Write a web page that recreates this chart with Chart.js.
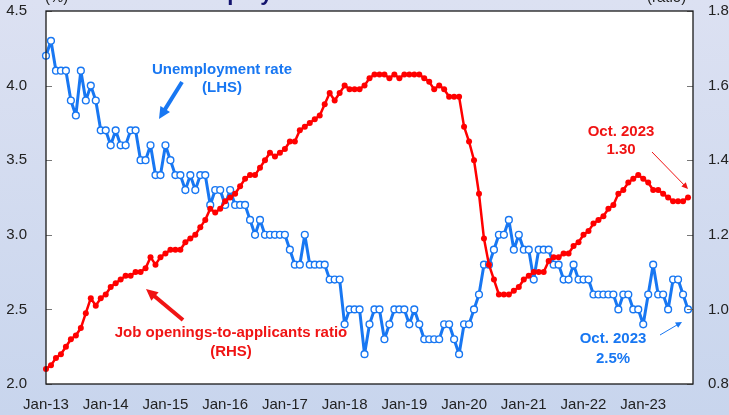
<!DOCTYPE html>
<html>
<head>
<meta charset="utf-8">
<script src="https://cdn.jsdelivr.net/npm/chart.js@4.4.0/dist/chart.umd.min.js"></script>
<style>
    html, body { margin: 0; padding: 0; }
    body {
        width: 729px;
        height: 415px;
        overflow: hidden;
        background: linear-gradient(180deg, #dce1f2 0%, #c8d5ed 100%);
    }
    canvas { display: block; }
</style>
</head>
<body>
<canvas id="chart" width="729" height="415"></canvas>
<script>
// === Data ===
const years = ['13', '14', '15', '16', '17', '18', '19', '20', '21', '22', '23'];
const months = ['Jan', 'Feb', 'Mar', 'Apr', 'May', 'Jun', 'Jul', 'Aug', 'Sep', 'Oct', 'Nov', 'Dec'];

// Unemployment rate, % (LHS), Jan-13 .. Oct-23
const unemploymentRate = [
    4.2, 4.3, 4.1, 4.1, 4.1, 3.9, 3.8, 4.1, 3.9, 4.0, 3.9, 3.7, // 2013
    3.7, 3.6, 3.7, 3.6, 3.6, 3.7, 3.7, 3.5, 3.5, 3.6, 3.4, 3.4, // 2014
    3.6, 3.5, 3.4, 3.4, 3.3, 3.4, 3.3, 3.4, 3.4, 3.2, 3.3, 3.3, // 2015
    3.2, 3.3, 3.2, 3.2, 3.2, 3.1, 3.0, 3.1, 3.0, 3.0, 3.0, 3.0, // 2016
    3.0, 2.9, 2.8, 2.8, 3.0, 2.8, 2.8, 2.8, 2.8, 2.7, 2.7, 2.7, // 2017
    2.4, 2.5, 2.5, 2.5, 2.2, 2.4, 2.5, 2.5, 2.3, 2.4, 2.5, 2.5, // 2018
    2.5, 2.4, 2.5, 2.4, 2.3, 2.3, 2.3, 2.3, 2.4, 2.4, 2.3, 2.2, // 2019
    2.4, 2.4, 2.5, 2.6, 2.8, 2.8, 2.9, 3.0, 3.0, 3.1, 2.9, 3.0, // 2020
    2.9, 2.9, 2.7, 2.9, 2.9, 2.9, 2.8, 2.8, 2.7, 2.7, 2.8, 2.7, // 2021
    2.7, 2.7, 2.6, 2.6, 2.6, 2.6, 2.6, 2.5, 2.6, 2.6, 2.5, 2.5, // 2022
    2.4, 2.6, 2.8, 2.6, 2.6, 2.5, 2.7, 2.7, 2.6, 2.5            // 2023
];

// Job openings-to-applicants ratio (RHS)
const jobRatio = [
    0.84, 0.85, 0.87, 0.88, 0.90, 0.92, 0.93, 0.95, 0.99, 1.03, 1.01, 1.03, // 2013
    1.04, 1.06, 1.07, 1.08, 1.09, 1.09, 1.10, 1.10, 1.11, 1.14, 1.12, 1.14, // 2014
    1.15, 1.16, 1.16, 1.16, 1.18, 1.19, 1.20, 1.22, 1.24, 1.27, 1.26, 1.27, // 2015
    1.29, 1.30, 1.31, 1.33, 1.35, 1.36, 1.36, 1.38, 1.40, 1.42, 1.41, 1.42, // 2016
    1.43, 1.45, 1.45, 1.48, 1.49, 1.50, 1.51, 1.52, 1.55, 1.58, 1.56, 1.58, // 2017
    1.60, 1.59, 1.59, 1.59, 1.60, 1.62, 1.63, 1.63, 1.63, 1.62, 1.63, 1.62, // 2018
    1.63, 1.63, 1.63, 1.63, 1.62, 1.61, 1.59, 1.60, 1.59, 1.57, 1.57, 1.57, // 2019
    1.49, 1.45, 1.40, 1.31, 1.19, 1.12, 1.08, 1.04, 1.04, 1.04, 1.05, 1.06, // 2020
    1.08, 1.09, 1.10, 1.10, 1.10, 1.13, 1.14, 1.14, 1.15, 1.15, 1.17, 1.18, // 2021
    1.20, 1.21, 1.23, 1.24, 1.25, 1.27, 1.28, 1.31, 1.32, 1.34, 1.35, 1.36, // 2022
    1.35, 1.34, 1.32, 1.32, 1.31, 1.30, 1.29, 1.29, 1.29, 1.30              // 2023
];

const leftTicks = [2.0, 2.5, 3.0, 3.5, 4.0, 4.5];
const rightTicks = [0.8, 1.0, 1.2, 1.4, 1.6, 1.8];

// Month labels Jan-13 .. Nov-23 (the last one only pads the axis end)
const monthLabels = [];
years.forEach(y => months.forEach(m => monthLabels.push(m + '-' + y)));
monthLabels.length = unemploymentRate.length + 1;

const BLUE = '#1877f2';
const RED = '#ff0000';
const FONT = '"Liberation Sans", Arial, sans-serif';

// === Helpers ===
function drawArrow(ctx, x1, y1, x2, y2, color, width, head) {
    const ang = Math.atan2(y2 - y1, x2 - x1);
    ctx.save();
    ctx.strokeStyle = color;
    ctx.fillStyle = color;
    ctx.lineWidth = width;
    ctx.beginPath();
    ctx.moveTo(x1, y1);
    ctx.lineTo(x2 - Math.cos(ang) * head * 0.8, y2 - Math.sin(ang) * head * 0.8);
    ctx.stroke();
    ctx.beginPath();
    ctx.moveTo(x2, y2);
    ctx.lineTo(x2 - head * Math.cos(ang - 0.45), y2 - head * Math.sin(ang - 0.45));
    ctx.lineTo(x2 - head * Math.cos(ang + 0.45), y2 - head * Math.sin(ang + 0.45));
    ctx.closePath();
    ctx.fill();
    ctx.restore();
}

function drawText(ctx, lines, x, y, color, size, gap) {
    ctx.save();
    ctx.fillStyle = color;
    ctx.font = 'bold ' + size + 'px ' + FONT;
    ctx.textAlign = 'center';
    ctx.textBaseline = 'middle';
    lines.forEach((t, i) => ctx.fillText(t, x, y + i * gap));
    ctx.restore();
}

// no automatic label padding, the plot box is fixed by hand
function noPadding(scale) {
    scale.paddingTop = 0;
    scale.paddingBottom = 0;
    scale.paddingLeft = 0;
    scale.paddingRight = 0;
}

// === Plot frame, inner ticks and notes ===
const notesPlugin = {
    id: 'notes',
    beforeDraw(chart) {
        const { ctx, chartArea: a } = chart;
        ctx.save();
        ctx.fillStyle = '#ffffff';
        ctx.fillRect(a.left, a.top, a.right - a.left, a.bottom - a.top);
        ctx.restore();
    },
    afterDraw(chart) {
        const { ctx, chartArea: a, scales } = chart;
        ctx.save();

        // inner tick marks
        ctx.strokeStyle = '#777';
        ctx.lineWidth = 1;
        leftTicks.forEach(v => {
            const y = Math.round(scales.y.getPixelForValue(v)) + 0.5;
            ctx.beginPath(); ctx.moveTo(a.left, y); ctx.lineTo(a.left + 6, y); ctx.stroke();
        });
        rightTicks.forEach(v => {
            const y = Math.round(scales.y1.getPixelForValue(v)) + 0.5;
            ctx.beginPath(); ctx.moveTo(a.right - 6, y); ctx.lineTo(a.right, y); ctx.stroke();
        });

        // frame
        ctx.strokeStyle = '#1a1a1a';
        ctx.lineWidth = 1.3;
        ctx.strokeRect(a.left, a.top, a.right - a.left, a.bottom - a.top);

        // cut-off title and units at the top
        ctx.fillStyle = '#14146e';
        ctx.font = 'bold 22px ' + FONT;
        ctx.textAlign = 'left';
        ctx.textBaseline = 'alphabetic';
        ctx.fillText('Employment Conditions', 193, 0);
        ctx.fillStyle = '#222';
        ctx.font = '15px ' + FONT;
        ctx.fillText('(%)', 45, 2);
        ctx.fillText('(ratio)', 647, 2);
        ctx.restore();

        // series notes
        drawText(ctx, ['Unemployment rate', '(LHS)'], 222, 70, BLUE, 15, 18);
        drawArrow(ctx, 182, 82, 159, 119, BLUE, 4, 13);

        drawText(ctx, ['Job openings-to-applicants ratio', '(RHS)'], 231, 333, '#f01414', 15, 19);
        drawArrow(ctx, 183, 320, 146, 289, '#f01414', 4, 13);

        drawText(ctx, ['Oct. 2023', '1.30'], 621, 132, '#f01414', 15, 18);
        drawArrow(ctx, 652, 152, 688, 189, '#f01414', 1, 7);

        drawText(ctx, ['Oct. 2023', '2.5%'], 613, 339, BLUE, 15, 20);
        drawArrow(ctx, 660, 335, 682, 322, BLUE, 1, 7);
    }
};

// === Chart ===
document.addEventListener('DOMContentLoaded', () => {
    const ctx = document.getElementById('chart').getContext('2d');
    new Chart(ctx, {
        type: 'line',
        data: {
            labels: monthLabels,
            datasets: [
                {
                    label: 'Job openings-to-applicants ratio (RHS)',
                    data: jobRatio,
                    yAxisID: 'y1',
                    borderColor: RED,
                    borderWidth: 2.5,
                    borderJoinStyle: 'round',
                    pointRadius: 3,
                    pointBorderWidth: 0,
                    pointBackgroundColor: RED,
                    tension: 0,
                    order: 0
                },
                {
                    label: 'Unemployment rate (LHS)',
                    data: unemploymentRate,
                    yAxisID: 'y',
                    borderColor: BLUE,
                    borderWidth: 3,
                    borderJoinStyle: 'round',
                    pointRadius: 3.4,
                    pointBorderWidth: 1.4,
                    pointBorderColor: BLUE,
                    pointBackgroundColor: '#ffffff',
                    tension: 0,
                    order: 1
                }
            ]
        },
        options: {
            responsive: false,
            animation: false,
            devicePixelRatio: 1,
            layout: { padding: { top: 11, left: 0, right: 0, bottom: 0 } },
            plugins: {
                legend: { display: false },
                tooltip: { enabled: false }
            },
            scales: {
                x: {
                    type: 'category',
                    offset: false,
                    grid: { display: false, drawTicks: false },
                    border: { display: false },
                    ticks: {
                        autoSkip: false,
                        maxRotation: 0,
                        minRotation: 0,
                        padding: 12,
                        color: '#222',
                        font: { family: FONT, size: 15 },
                        callback(val) {
                            const l = this.getLabelForValue(val);
                            return l && l.startsWith('Jan') ? l : '';
                        }
                    },
                    afterFit(scale) { scale.height = 31; noPadding(scale); }
                },
                y: {
                    position: 'left',
                    min: 2.0,
                    max: 4.5,
                    grid: { display: false, drawTicks: false },
                    border: { display: false },
                    ticks: {
                        stepSize: 0.5,
                        padding: 19,
                        color: '#222',
                        font: { family: FONT, size: 15 },
                        callback: v => v.toFixed(1)
                    },
                    afterFit(scale) { scale.width = 46; noPadding(scale); }
                },
                y1: {
                    position: 'right',
                    min: 0.8,
                    max: 1.8,
                    grid: { display: false, drawTicks: false },
                    border: { display: false },
                    ticks: {
                        stepSize: 0.2,
                        padding: 15,
                        color: '#222',
                        font: { family: FONT, size: 15 },
                        callback: v => v.toFixed(1)
                    },
                    afterFit(scale) { scale.width = 36; noPadding(scale); }
                }
            }
        },
        plugins: [notesPlugin]
    });
});
</script>
</body>
</html>
